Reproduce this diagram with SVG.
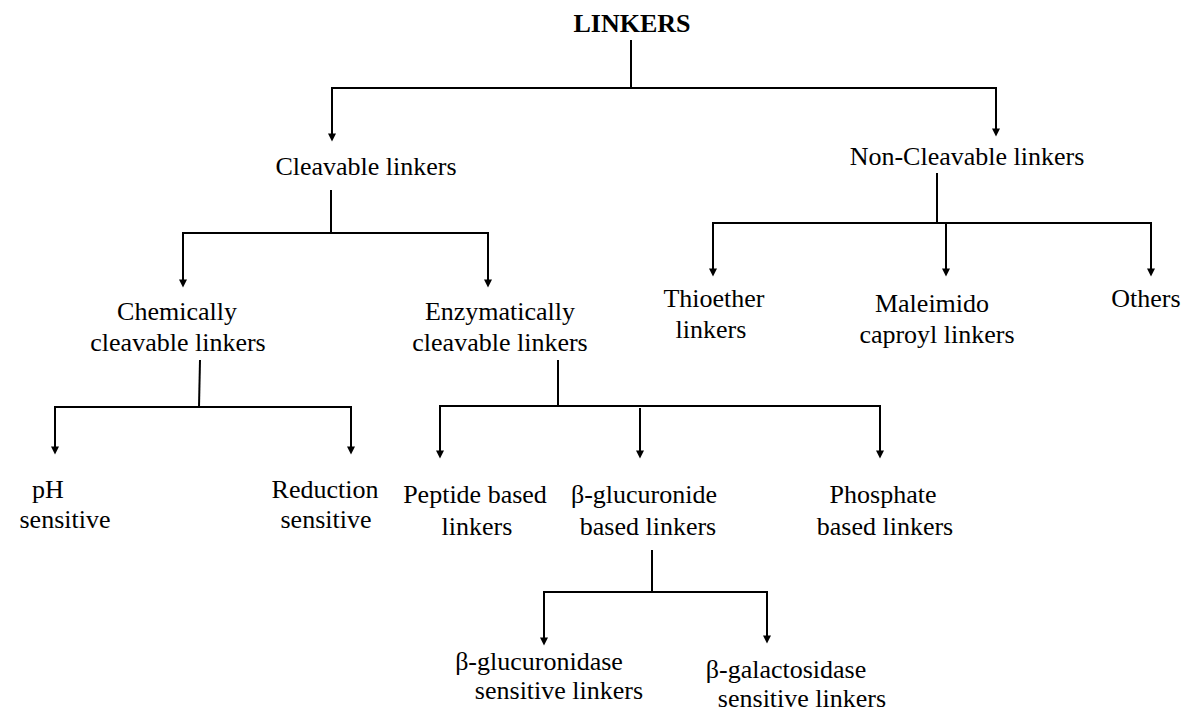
<svg xmlns="http://www.w3.org/2000/svg" width="1183" height="713" viewBox="0 0 1183 713">
<style>
text{font-family:"Liberation Serif","Times New Roman",serif;font-size:26px;fill:#000;text-anchor:middle}
.title{font-weight:bold}
.c line,.c path{stroke:#000;stroke-width:2;fill:none}
</style>
<defs>
<marker id="ah" viewBox="0 0 10 10" refX="2" refY="5" markerWidth="10" markerHeight="8" markerUnits="userSpaceOnUse" orient="auto">
<path d="M0,0 L10,5 L0,10 z" fill="#000"/>
</marker>
</defs>
<rect width="1183" height="713" fill="#fff"/>
<g class="c" id="connectors">
<line x1="631" y1="40" x2="631" y2="88"/>
<line x1="331" y1="88" x2="997" y2="88"/>
<line x1="332" y1="88" x2="332" y2="135" marker-end="url(#ah)"/>
<line x1="996" y1="88" x2="996" y2="130" marker-end="url(#ah)"/>
<line x1="331" y1="190" x2="331" y2="233"/>
<line x1="182" y1="233" x2="489" y2="233"/>
<line x1="183" y1="233" x2="183" y2="281" marker-end="url(#ah)"/>
<line x1="488" y1="233" x2="488" y2="281" marker-end="url(#ah)"/>
<line x1="200" y1="360" x2="199" y2="407"/>
<line x1="54" y1="407" x2="352" y2="407"/>
<line x1="55" y1="407" x2="55" y2="448" marker-end="url(#ah)"/>
<line x1="351" y1="407" x2="351" y2="448" marker-end="url(#ah)"/>
<line x1="558" y1="360" x2="558" y2="407"/>
<line x1="439" y1="406" x2="881" y2="406"/>
<line x1="440" y1="406" x2="440" y2="452" marker-end="url(#ah)"/>
<line x1="640" y1="408" x2="640" y2="452" marker-end="url(#ah)"/>
<line x1="880" y1="406" x2="880" y2="452" marker-end="url(#ah)"/>
<line x1="652" y1="550" x2="652" y2="592"/>
<line x1="543" y1="592" x2="768" y2="592"/>
<line x1="544" y1="592" x2="544" y2="639" marker-end="url(#ah)"/>
<line x1="767" y1="592" x2="767" y2="637" marker-end="url(#ah)"/>
<line x1="937" y1="173" x2="937" y2="223"/>
<line x1="712" y1="223" x2="1152" y2="223"/>
<line x1="713" y1="223" x2="713" y2="270" marker-end="url(#ah)"/>
<line x1="946" y1="223" x2="946" y2="270" marker-end="url(#ah)"/>
<line x1="1151" y1="223" x2="1151" y2="270" marker-end="url(#ah)"/>
</g>
<g id="linkers"><text class="title" x="632" y="32">LINKERS</text></g>
<g id="cleavable"><text x="366" y="175">Cleavable linkers</text></g>
<g id="noncleavable"><text x="967" y="165">Non-Cleavable linkers</text></g>
<g id="chemically"><text x="177" y="320">Chemically</text><text x="178" y="351">cleavable linkers</text></g>
<g id="enzymatically"><text x="500" y="320">Enzymatically</text><text x="500" y="351">cleavable linkers</text></g>
<g id="thioether"><text x="714" y="307">Thioether</text><text x="711" y="338">linkers</text></g>
<g id="maleimido"><text x="932" y="312">Maleimido</text><text x="937" y="343">caproyl linkers</text></g>
<g id="others"><text x="1146" y="307">Others</text></g>
<g id="ph"><text x="48" y="498">pH</text><text x="65" y="528">sensitive</text></g>
<g id="reduction"><text x="325" y="498">Reduction</text><text x="326" y="528">sensitive</text></g>
<g id="peptide"><text x="475" y="503">Peptide based</text><text x="477" y="535">linkers</text></g>
<g id="glucuronide"><text x="644" y="503">β-glucuronide</text><text x="648" y="535">based linkers</text></g>
<g id="phosphate"><text x="883" y="503">Phosphate</text><text x="885" y="535">based linkers</text></g>
<g id="glucuronidase"><text x="539" y="670">β-glucuronidase</text><text x="559" y="699">sensitive linkers</text></g>
<g id="galactosidase"><text x="786" y="678">β-galactosidase</text><text x="802" y="707">sensitive linkers</text></g>
</svg>
